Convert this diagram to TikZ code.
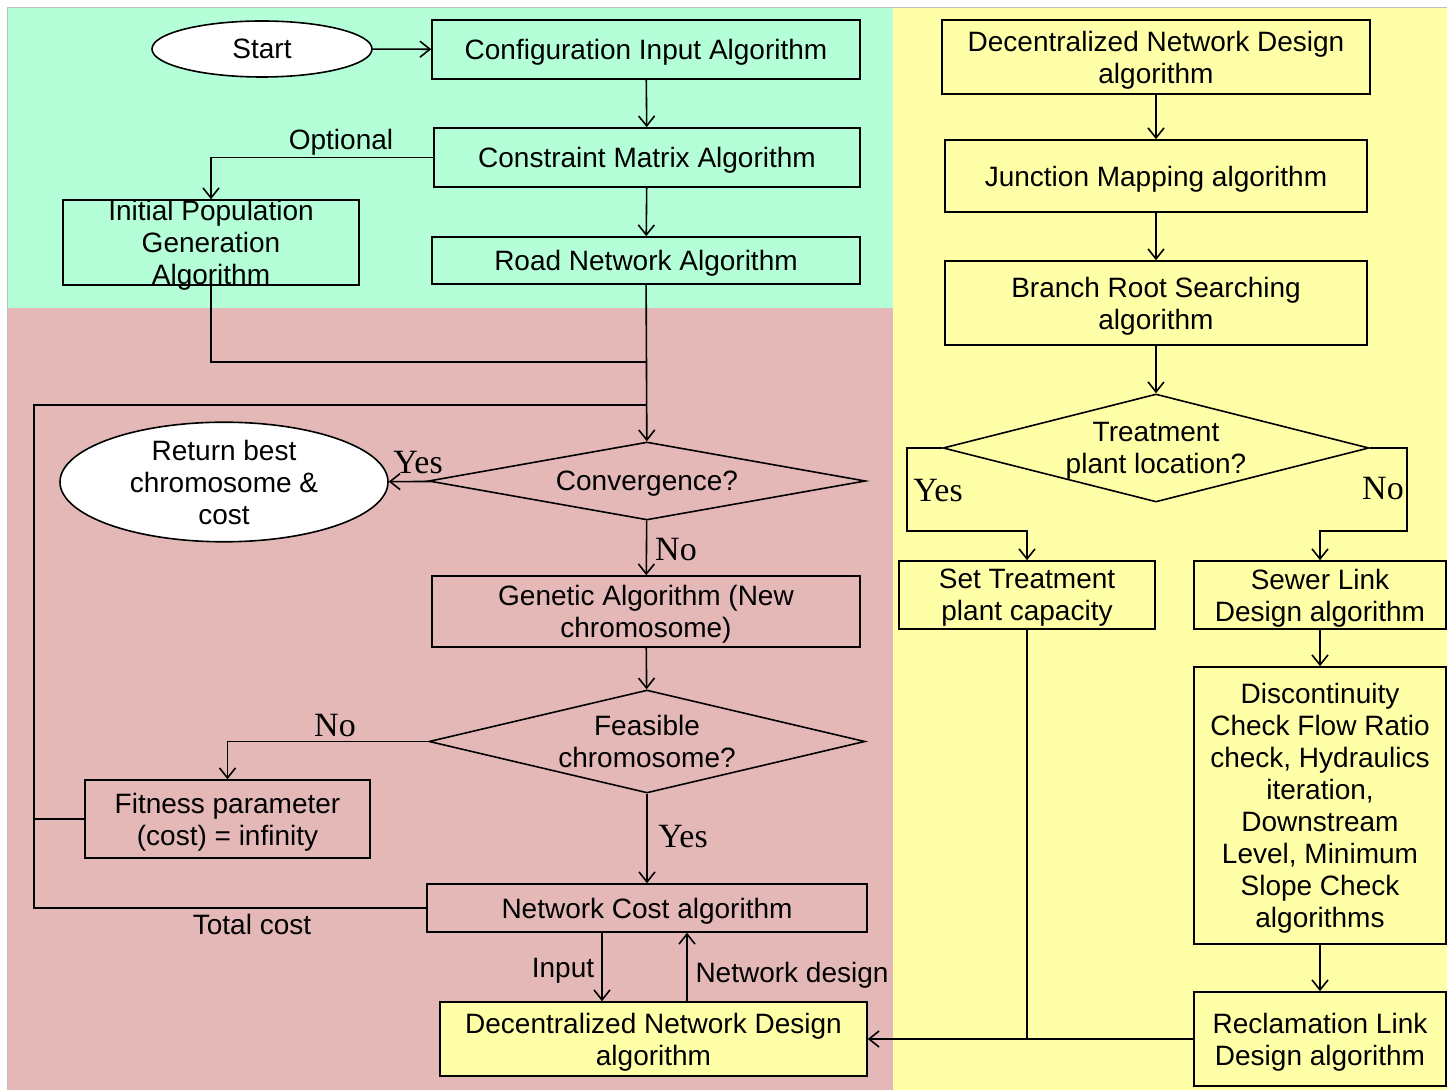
\documentclass[tikz,border=0pt]{standalone}
\usepackage{fontspec}
\setmainfont{Liberation Sans}
\newfontfamily\serifyn{Liberation Serif}
\usetikzlibrary{positioning, shapes.geometric, arrows.meta}

\definecolor{topgreen}{RGB}{180,255,215}
\definecolor{midpink}{RGB}{229,184,184}
\definecolor{sideyellow}{RGB}{255,255,168}

\begin{document}
\begin{tikzpicture}[
        x=0.5pt, y=-0.5pt,
        font=\fontsize{14}{16}\selectfont,
        line width=0.8pt,
        >={Straight Barb[length=5pt,width=8pt]},
        box/.style = {rectangle, draw, align=center, inner sep=0pt, text depth=0pt},
        oval/.style = {ellipse, draw, fill=white, align=center, inner sep=0pt},
        decision/.style = {diamond, draw, align=center, inner sep=0pt, text depth=0pt},
        yn/.style = {font=\serifyn\fontsize{17}{19}\selectfont, inner sep=0pt, anchor=base},
        lbl/.style = {inner sep=0pt, anchor=base}
    ]
        \useasboundingbox (0,0) rectangle (1447,1090);

        % Backgrounds
        \fill[topgreen] (7,7) rectangle (893,308);
        \fill[midpink] (7,308) rectangle (893,1090);
        \fill[sideyellow] (893,7) rectangle (1447,1090);
        \draw[black!25, line width=0.4pt] (7,1090) -- (7,7) -- (1447,7);

        % Setup part
        \node[oval, minimum width=110pt, minimum height=28pt] (start) at (262,49) {Start};
        \node[box, minimum width=214pt, minimum height=29.5pt] (config) at (646,49.5) {Configuration Input Algorithm};
        \node[box, minimum width=213pt, minimum height=29.5pt] (constraint) at (647,157.5) {Constraint Matrix Algorithm};
        \node[box, minimum width=148pt, minimum height=42.5pt] (initpop) at (211,242.5) {};
        \node[align=center, inner sep=0pt, text depth=0pt] (initpoptext) at (initpop.center) {Initial Population\\Generation\\Algorithm};
        \node[box, minimum width=214pt, minimum height=23.5pt] (road) at (646,260.5) {Road Network Algorithm};

        % Genetic loop
        \node[decision, aspect=5.6, minimum width=218.5pt, minimum height=39pt] (converge) at (647,481) {Convergence?};
        \node[oval, minimum width=164pt, minimum height=53pt] (retbest) at (224,482) {Return best\\chromosome \&\\cost};
        \node[box, minimum width=214pt, minimum height=35.5pt] (ga) at (646,611.5) {Genetic Algorithm (New\\chromosome)};
        \node[decision, aspect=4.2, minimum width=218pt, minimum height=51.5pt] (feasible) at (647,741.5) {Feasible\\chromosome?};
        \node[box, minimum width=142.5pt, minimum height=39pt] (fitness) at (227.5,819) {Fitness parameter\\(cost) = infinity};
        \node[box, minimum width=220pt, minimum height=24pt] (netcost) at (647,908) {Network Cost algorithm};
        \node[box, fill=sideyellow, minimum width=213.5pt, minimum height=37pt] (dndlow) at (653.5,1039) {Decentralized Network Design\\algorithm};

        % Decentralized design part
        \node[box, minimum width=214pt, minimum height=37pt] (dndtop) at (1156,57) {Decentralized Network Design\\algorithm};
        \node[box, minimum width=211pt, minimum height=36pt] (junction) at (1156,176) {Junction Mapping algorithm};
        \node[box, minimum width=211pt, minimum height=42pt] (branch) at (1156,303) {Branch Root Searching\\algorithm};
        \node[decision, aspect=3.9, minimum width=213pt, minimum height=54pt] (treat) at (1156,448) {Treatment\\plant location?};
        \node[box, minimum width=128pt, minimum height=34pt] (settreat) at (1027,595) {Set Treatment\\plant capacity};
        \node[box, minimum width=126pt, minimum height=34pt] (sewer) at (1320,595) {Sewer Link\\Design algorithm};
        \node[box, minimum width=126pt, minimum height=138.5pt] (discont) at (1320,805.5) {Discontinuity\\Check Flow Ratio\\check, Hydraulics\\iteration,\\Downstream\\Level, Minimum\\Slope Check\\algorithms};
        \node[box, minimum width=126pt, minimum height=47pt] (reclaim) at (1320,1039) {Reclamation Link\\Design algorithm};

        % Join points
        \coordinate (popjoin) at (647,362);
        \coordinate (loopjoin) at (647,405);
        \coordinate (loopcorner) at (34,405);

        % Arrows, setup part
        \draw[->] (start) -- (config);
        \draw[->] (config) -- (constraint);
        \draw[->] (constraint.west) -| (initpop.north);
        \draw[->] (constraint) -- (road);
        \draw[->] (road) -- (converge);
        \draw (initpop.south) |- (popjoin);

        % Arrows, genetic loop
        \draw[->] (converge) -- (retbest);
        \draw[->] (converge) -- (ga);
        \draw[->] (ga) -- (feasible);
        \draw[->] (feasible.west) -| (fitness.north);
        \draw[->] (feasible) -- (netcost);
        \draw (fitness.west) -- (fitness.west -| loopcorner);
        \draw (netcost.west) -| (loopcorner) -- (loopjoin);
        \draw[->] ([xshift=-22.5pt]netcost.south) -- ([xshift=-22.5pt]netcost.south |- dndlow.north);
        \draw[->] ([xshift=20pt]netcost.south |- dndlow.north) -- ([xshift=20pt]netcost.south);

        % Arrows, decentralized design part
        \draw[->] (dndtop) -- (junction);
        \draw[->] (junction) -- (branch);
        \draw[->] (branch) -- (treat);
        \draw[->] (treat.west) -| (907,531) -| (settreat.north);
        \draw[->] (treat.east) -| (1407,531) -| (sewer.north);
        \draw[->] (sewer) -- (discont);
        \draw[->] (discont) -- (reclaim);
        \draw[->] (reclaim.west) -- (dndlow.east);
        \draw (settreat.south) -- (settreat.south |- reclaim.west);

        % Labels
        \node[lbl] (optional) at (341,150) {Optional};
        \node[yn] (convyes) at (418,474) {Yes};
        \node[yn] (convno) at (676,561) {No};
        \node[yn] (feasno) at (335,737) {No};
        \node[yn] (feasyes) at (683,848) {Yes};
        \node[lbl] (totalcost) at (252,935) {Total cost};
        \node[lbl] (input) at (563,978) {Input};
        \node[lbl] (netdesign) at (792,982) {Network design};
        \node[yn] (treatyes) at (938,502) {Yes};
        \node[yn] (treatno) at (1383,500) {No};
    \end{tikzpicture}
\end{document}
